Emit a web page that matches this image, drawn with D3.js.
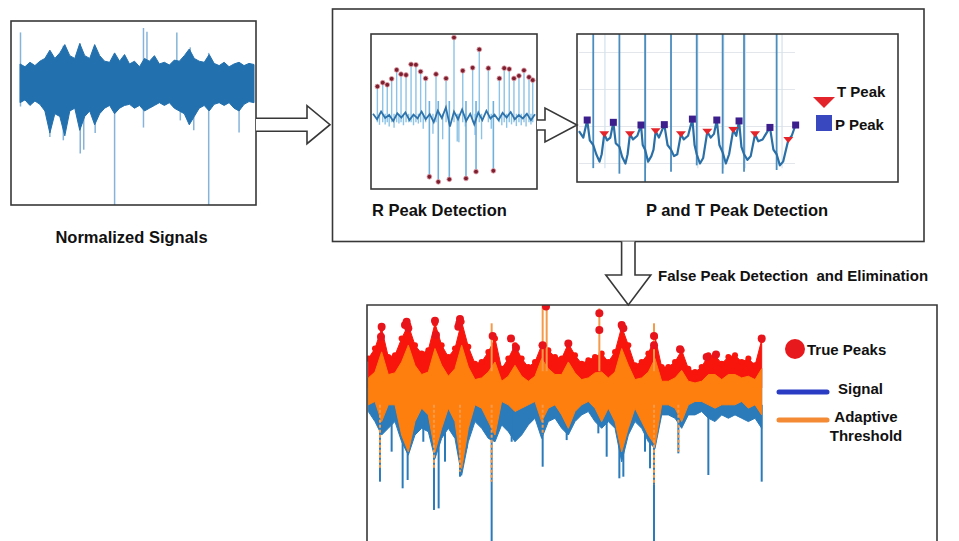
<!DOCTYPE html>
<html>
<head>
<meta charset="utf-8">
<script src="https://cdn.jsdelivr.net/npm/d3@7"></script>
<style>
  html, body { margin: 0; padding: 0; background: #fff; }
  svg { display: block; font-family: "Liberation Sans", Arial, sans-serif; }
  .lbl { font-weight: bold; fill: #111; font-size: 15px; }
  .stage { font-size: 16.5px; }
</style>
</head>
<body>
<svg id="chart" width="959" height="541"></svg>
<script>
// ---------- data ----------

// 1. normalized signal: band envelope per sample + isolated spikes (a.u.)
const normUpper = [0.35,0.30,0.38,0.32,0.40,0.45,0.60,0.45,0.55,0.70,0.50,0.45,0.72,0.50,0.45,0.70,0.50,0.40,0.38,0.55,0.40,0.52,0.35,0.40,0.30,0.45,0.40,0.50,0.35,0.38,0.33,0.42,0.40,0.50,0.62,0.45,0.40,0.38,0.52,0.36,0.32,0.38,0.30,0.35,0.38,0.32,0.36,0.34];
const normLower = [-0.35,-0.30,-0.40,-0.32,-0.38,-0.50,-0.90,-0.55,-0.60,-0.95,-0.50,-0.45,-0.85,-0.60,-0.50,-0.75,-0.55,-0.45,-0.40,-0.55,-0.45,-0.40,-0.38,-0.45,-0.40,-0.50,-0.45,-0.40,-0.35,-0.40,-0.35,-0.45,-0.50,-0.55,-0.75,-0.60,-0.45,-0.40,-0.50,-0.38,-0.35,-0.40,-0.35,-0.45,-0.50,-0.38,-0.33,-0.35];
const normUpT = [0.1, 8.7, 12.1, 24.8, 25.5, 31.5, 34.2, 37.9];
const normUpV = [0.92, 0.68, 0.72, 1.0, 0.93, 0.92, 0.65, 0.55];
const normDownT = [0.1, 6.0, 8.7, 12.1, 12.8, 15.1, 19.0, 24.8, 32.2, 34.9, 37.9, 44.0];
const normDownV = [-0.42, -0.97, -1.03, -1.27, -1.2, -0.9, -2.2, -0.8, -0.67, -0.85, -2.2, -0.89];

// 2a. R peak detection (time s, amplitude mV)
const rBaseT = [0,0.25,0.5,0.75,1,1.25,1.5,1.75,2,2.25,2.5,2.75,3,3.25,3.5,3.75,4,4.25,4.5,4.75,5,5.25,5.5,5.75,6,6.25,6.5,6.75,7,7.25,7.5,7.75,8,8.25,8.5,8.75,9,9.25,9.5,9.75,10];
const rBaseV = [0.05,-0.08,0.1,-0.05,0.02,-0.12,0.06,-0.04,0.08,-0.1,0.03,-0.06,0.1,-0.08,0.04,-0.15,0.12,-0.05,0.2,-0.25,0.1,-0.08,0.15,-0.12,0.05,-0.2,0.08,-0.1,0.12,-0.06,0.03,-0.1,0.07,-0.04,0.09,-0.08,0.02,-0.06,0.05,-0.1,0.04];
const rPeakT = [0.27,0.6,0.88,1.15,1.46,1.73,2.04,2.35,2.65,2.94,3.25,3.89,4.51,5.0,5.54,6.15,6.56,7.12,7.8,8.1,8.41,8.7,9.01,9.32,9.63,9.86];
const rPeakV = [0.69,0.78,0.73,0.87,1.08,0.98,0.96,1.21,1.2,1.04,0.88,0.98,0.88,1.84,1.06,1.13,1.56,1.12,0.88,1.12,1.1,0.88,0.94,1.07,0.91,0.84];
const rNegT = [3.48, 4.03, 4.71, 5.74, 6.36, 7.43];
const rNegV = [-1.43, -1.55, -1.49, -1.47, -1.31, -1.29];
const rDipT = [0.4,0.75,1.0,1.3,1.6,1.88,2.2,2.5,2.8,3.1,3.7,4.3,5.2,5.3,5.7,6.3,6.7,7.3,7.95,8.25,8.55,8.85,9.15,9.45,9.75];
const rDipV = [-0.21,-0.2,-0.25,-0.28,-0.18,-0.22,-0.15,-0.22,-0.18,-0.3,-0.42,-0.55,-0.6,-0.62,-0.25,-0.45,-0.55,-0.3,-0.22,-0.28,-0.2,-0.24,-0.22,-0.25,-0.2];

// 2b. P and T peak detection
const ptTraceT = [0,0.2,0.38,0.5,0.66,0.8,0.95,1.05,1.17,1.3,1.45,1.59,1.7,1.87,2.0,2.15,2.25,2.36,2.5,2.7,2.87,2.95,3.06,3.2,3.35,3.45,3.55,3.7,3.95,4.1,4.26,4.4,4.55,4.72,4.85,5.05,5.25,5.35,5.45,5.6,5.75,5.94,6.1,6.25,6.38,6.5,6.65,6.8,6.95,7.14,7.28,7.41,7.52,7.64,7.8,7.95,8.15,8.3,8.5,8.84,9.0,9.15,9.3,9.45,9.69,9.85,10.0];
const ptTraceV = [-0.05,-0.12,0.07,-0.15,-0.2,-0.3,-0.38,-0.3,-0.08,-0.15,-0.12,0.045,-0.18,-0.22,-0.33,-0.4,-0.3,-0.08,-0.14,-0.1,0.016,-0.2,-0.25,-0.38,-0.32,-0.25,-0.05,-0.12,0.02,-0.2,-0.25,-0.32,-0.3,-0.08,-0.14,-0.1,0.08,-0.2,-0.3,-0.4,-0.34,-0.056,-0.12,-0.08,0.07,-0.2,-0.28,-0.4,-0.3,-0.038,-0.1,0.06,-0.22,-0.3,-0.36,-0.32,-0.084,-0.16,-0.14,-0.01,-0.25,-0.3,-0.42,-0.38,-0.146,-0.1,0.0];
const ptRT = [0.66, 1.87, 3.06, 4.26, 5.45, 6.65, 7.64, 9.15];
const ptRLow = [-0.45, -0.51, -0.6, -0.49, -0.42, -0.51, -0.49, -0.47];
const pPeakT = [0.38, 1.59, 2.87, 3.95, 5.25, 6.38, 7.41, 8.84, 10.03];
const pPeakV = [0.07, 0.045, 0.016, 0.02, 0.08, 0.07, 0.06, -0.01, 0.016];
const tPeakT = [1.17, 2.36, 3.55, 4.72, 5.94, 7.14, 8.15, 9.69];
const tPeakV = [-0.084, -0.084, -0.05, -0.084, -0.056, -0.038, -0.084, -0.146];
const ptGridV = [0.8, 0.4, 0, -0.4];
const ptGridT = [1.2, 3.1, 5.5, 6.7, 7.7, 9.4];

// 3. false peak elimination: envelopes per sample (a.u.)
const redTop = [0.35,0.47,0.71,0.37,0.39,0.59,0.75,0.51,0.41,0.45,0.77,0.51,0.37,0.47,0.79,0.49,0.29,0.31,0.43,0.59,0.23,0.35,0.51,0.35,0.25,0.31,0.51,0.45,0.37,0.35,0.53,0.39,0.29,0.33,0.37,0.41,0.31,0.43,0.73,0.51,0.27,0.31,0.41,0.61,0.25,0.25,0.31,0.45,0.23,0.19,0.25,0.39,0.39,0.29,0.37,0.39,0.31,0.35,0.27,0.57];
const orangeTop = [0.12,0.19,0.43,0.16,0.18,0.31,0.51,0.27,0.16,0.19,0.47,0.27,0.14,0.23,0.51,0.25,0.10,0.12,0.19,0.31,0.08,0.14,0.27,0.14,0.08,0.14,0.35,0.23,0.16,0.16,0.31,0.18,0.10,0.12,0.18,0.19,0.12,0.19,0.47,0.27,0.10,0.12,0.19,0.35,0.08,0.08,0.12,0.21,0.08,0.06,0.08,0.16,0.16,0.10,0.16,0.16,0.12,0.14,0.10,0.23];
const orangeBot = [-0.20,-0.16,-0.40,-0.20,-0.20,-0.56,-0.76,-0.40,-0.24,-0.32,-0.76,-0.48,-0.24,-0.40,-0.96,-0.48,-0.20,-0.24,-0.40,-0.56,-0.16,-0.20,-0.28,-0.24,-0.20,-0.16,-0.40,-0.24,-0.20,-0.32,-0.48,-0.28,-0.20,-0.16,-0.24,-0.40,-0.24,-0.40,-0.76,-0.48,-0.24,-0.40,-0.56,-0.68,-0.20,-0.20,-0.24,-0.40,-0.20,-0.16,-0.16,-0.20,-0.24,-0.20,-0.20,-0.20,-0.16,-0.24,-0.20,-0.32];
const blueBot = [-0.28,-0.40,-0.56,-0.48,-0.40,-0.64,-0.80,-0.56,-0.48,-0.52,-0.84,-0.60,-0.48,-0.60,-1.04,-0.64,-0.40,-0.48,-0.60,-0.64,-0.44,-0.52,-0.64,-0.56,-0.44,-0.36,-0.60,-0.40,-0.36,-0.48,-0.56,-0.40,-0.32,-0.28,-0.40,-0.48,-0.40,-0.48,-0.88,-0.56,-0.40,-0.48,-0.64,-0.72,-0.32,-0.32,-0.36,-0.48,-0.32,-0.32,-0.28,-0.36,-0.40,-0.32,-0.36,-0.32,-0.36,-0.40,-0.36,-0.48];
const blueSpikeT = [1.75,5.15,5.9,9.85,10.55,13.75,18.5,26.15,35.75,37.65,38.25,41.5,42.25,42.85,46.5,51.0,59.0,3.5,8.25,11.5,14.75,21.5,29.75,34.5];
const blueSpikeV = [-1.115,-1.194,-1.095,-1.452,-1.433,-1.056,-2.0,-0.937,-0.818,-1.075,-1.056,-0.758,-0.956,-2.0,-0.778,-1.036,-1.115,-0.758,-0.64,-0.877,-0.718,-0.64,-0.62,-0.54];
const orangeDownT = [1.75, 9.85, 13.75, 18.5, 26.15, 42.85, 46.5];
const orangeDownV = [-0.956, -0.956, -0.996, -1.115, -0.56, -1.155, -0.758];
const orangeUpT = [18.5, 26.15, 26.75, 34.65, 42.85];
const orangeUpV = [0.77, 0.988, 0.988, 0.948, 0.77];
const truePeakT = [2.0,1.9,5.75,5.5,6.0,10.0,10.15,13.75,13.65,13.5,18.65,21.4,22.15,26.15,26.65,30.0,34.65,34.65,38.0,38.25,42.85,42.85,46.75,50.75,52.15,59.0];
const truePeakV = [0.73,0.61,0.79,0.75,0.71,0.80,0.63,0.82,0.77,0.73,0.62,0.59,0.48,0.51,0.97,0.53,0.89,0.69,0.75,0.71,0.62,0.51,0.46,0.37,0.40,0.59];

// labels
const stageLabels = ["Normalized Signals", "R Peak Detection", "P and T Peak Detection", "False Peak Detection  and Elimination"];
const ptLegend = ["T Peak", "P Peak"];
const fpLegend = ["True Peaks", "Signal", "Adaptive", "Threshold"];

// ---------- drawing ----------
const svg = d3.select("#chart");
const ink = "#383838";

function box(x, y, w, h) {
    svg.append("rect")
        .attr("x", x).attr("y", y).attr("width", w).attr("height", h)
        .attr("fill", "none").attr("stroke", ink).attr("stroke-width", 1.6);
}

function clip(id, x, y, w, h) {
    svg.append("clipPath").attr("id", id)
        .append("rect").attr("x", x).attr("y", y).attr("width", w).attr("height", h);
    return svg.append("g").attr("clip-path", `url(#${id})`);
}

// hollow block arrows
function arrowRight(x0, xh, x1, yc, sh, hh) {
    svg.append("path")
        .attr("d", `M${x0},${yc - sh}L${xh},${yc - sh}L${xh},${yc - hh}L${x1},${yc}L${xh},${yc + hh}L${xh},${yc + sh}L${x0},${yc + sh}`)
        .attr("fill", "#fff").attr("stroke", ink).attr("stroke-width", 1.6);
}
function arrowDown(y0, yh, y1, xc, sh, hh) {
    svg.append("path")
        .attr("d", `M${xc - sh},${y0}L${xc - sh},${yh}L${xc - hh},${yh}L${xc},${y1}L${xc + hh},${yh}L${xc + sh},${yh}L${xc + sh},${y0}`)
        .attr("fill", "#fff").attr("stroke", ink).attr("stroke-width", 1.6);
}

// ===== panel 1: normalized signal =====
(function normalized() {
    const x = d3.scaleLinear().domain([0, normUpper.length - 1]).range([20, 254]);
    const y = d3.scaleLinear().domain([-2.2, 1]).range([205, 28]);
    const g = clip("clipNorm", 11, 21, 245, 184);

    g.selectAll(".up").data(normUpT).join("line")
        .attr("x1", d => x(d)).attr("x2", d => x(d))
        .attr("y1", y(0)).attr("y2", (d, i) => y(normUpV[i]))
        .attr("stroke", "#86b4d8").attr("stroke-width", 1.5);
    g.selectAll(".down").data(normDownT).join("line")
        .attr("x1", d => x(d)).attr("x2", d => x(d))
        .attr("y1", y(0)).attr("y2", (d, i) => y(normDownV[i]))
        .attr("stroke", "#86b4d8").attr("stroke-width", 1.5);

    const band = d3.area()
        .x((d, i) => x(i))
        .y0((d, i) => y(normLower[i]))
        .y1(d => y(d));
    g.append("path").datum(normUpper)
        .attr("d", band)
        .attr("fill", "#2270ae")
        .attr("stroke", "#2270ae").attr("stroke-width", 1);

    box(11, 21, 245, 184);
    svg.append("text").attr("class", "lbl stage")
        .attr("x", 131.5).attr("y", 237).attr("dy", "0.35em")
        .attr("text-anchor", "middle").text(stageLabels[0]);
})();

arrowRight(256, 307, 330, 124.7, 6.5, 19);

// ===== panel 2 frame =====
box(332.5, 9, 591.5, 232.5);

// ===== panel 2a: R peaks =====
(function rPeaks() {
    const x = d3.scaleLinear().domain([0, 10]).range([373, 535]);
    const y = d3.scaleLinear().domain([-1.6, 1.9]).range([184, 35]);
    const g = clip("clipR", 371, 34, 166, 155);
    const light = "#8cc3e6";

    g.selectAll(".dip").data(rDipT).join("line")
        .attr("x1", d => x(d)).attr("x2", d => x(d))
        .attr("y1", y(0.05)).attr("y2", (d, i) => y(rDipV[i]))
        .attr("stroke", light).attr("stroke-width", 1.4);
    g.selectAll(".pk").data(rPeakT).join("line")
        .attr("x1", d => x(d)).attr("x2", d => x(d))
        .attr("y1", y(-0.15)).attr("y2", (d, i) => y(rPeakV[i]))
        .attr("stroke", light).attr("stroke-width", 1.4);
    g.selectAll(".neg").data(rNegT).join("line")
        .attr("x1", d => x(d)).attr("x2", d => x(d))
        .attr("y1", y(0.35)).attr("y2", (d, i) => y(rNegV[i]))
        .attr("stroke", "#6fb0dc").attr("stroke-width", 1.6);

    const line = d3.line().x(d => x(d)).y((d, i) => y(rBaseV[i]));
    g.append("path").datum(rBaseT)
        .attr("d", line).attr("fill", "none")
        .attr("stroke", "#2f73ab").attr("stroke-width", 1.8);

    g.selectAll(".dotp").data(rPeakT).join("circle")
        .attr("cx", d => x(d)).attr("cy", (d, i) => y(rPeakV[i])).attr("r", 2.4)
        .attr("fill", "#7d1f2e").attr("stroke", "#e3a3ad").attr("stroke-width", 0.8);
    g.selectAll(".dotn").data(rNegT).join("circle")
        .attr("cx", d => x(d)).attr("cy", (d, i) => y(rNegV[i])).attr("r", 2.4)
        .attr("fill", "#7d1f2e").attr("stroke", "#e3a3ad").attr("stroke-width", 0.8);

    box(371, 34, 166, 155);
    svg.append("text").attr("class", "lbl stage")
        .attr("x", 372).attr("y", 210).attr("dy", "0.35em")
        .text(stageLabels[1]);
})();

arrowRight(537, 545, 577, 125, 5, 17);

// ===== panel 2b: P and T peaks =====
(function ptPeaks() {
    const x = d3.scaleLinear().domain([0, 10]).range([579, 795]);
    const y = d3.scaleLinear().domain([-0.6, 1.0]).range([182, 34]);
    const g = clip("clipPT", 577, 34, 321, 148);

    g.selectAll(".gh").data(ptGridV).join("line")
        .attr("x1", x(0)).attr("x2", x(10))
        .attr("y1", d => y(d)).attr("y2", d => y(d))
        .attr("stroke", "#e3e6ea").attr("stroke-width", 1);
    g.selectAll(".gv").data(ptGridT).join("line")
        .attr("x1", d => x(d)).attr("x2", d => x(d))
        .attr("y1", y(1.0)).attr("y2", y(-0.45))
        .attr("stroke", "#d3e2ee").attr("stroke-width", 1.2);

    g.selectAll(".rs").data(ptRT).join("line")
        .attr("x1", d => x(d)).attr("x2", d => x(d))
        .attr("y1", y(1.1)).attr("y2", (d, i) => y(ptRLow[i]))
        .attr("stroke", "#4b8dbf").attr("stroke-width", 1.8);

    const line = d3.line().x(d => x(d)).y((d, i) => y(ptTraceV[i]));
    g.append("path").datum(ptTraceT)
        .attr("d", line).attr("fill", "none")
        .attr("stroke", "#2a6fa6").attr("stroke-width", 2.2)
        .attr("stroke-linejoin", "round");

    g.selectAll(".tp").data(tPeakT).join("path")
        .attr("transform", (d, i) => `translate(${x(d)},${y(tPeakV[i])})`)
        .attr("d", "M-5,-3L5,-3L0,3Z")
        .attr("fill", "#e3242b");
    g.selectAll(".pp").data(pPeakT).join("rect")
        .attr("x", d => x(d) - 3.5).attr("y", (d, i) => y(pPeakV[i]) - 3.5)
        .attr("width", 7).attr("height", 7)
        .attr("fill", "#3c1f8c");

    box(577, 34, 321, 148);

    // legend
    svg.append("path").attr("d", "M813,97L835,97L824,108Z").attr("fill", "#e3242b");
    svg.append("rect").attr("x", 816).attr("y", 115).attr("width", 16).attr("height", 16).attr("fill", "#3a48c0");
    svg.append("text").attr("class", "lbl").attr("x", 837).attr("y", 92).attr("dy", "0.35em").text(ptLegend[0]);
    svg.append("text").attr("class", "lbl").attr("x", 835).attr("y", 125).attr("dy", "0.35em").text(ptLegend[1]);

    svg.append("text").attr("class", "lbl stage")
        .attr("x", 737).attr("y", 210).attr("dy", "0.35em")
        .attr("text-anchor", "middle").text(stageLabels[2]);
})();

arrowDown(241.5, 275, 305, 628.3, 6.7, 22.5);
svg.append("text").attr("class", "lbl")
    .attr("x", 658).attr("y", 276).attr("dy", "0.35em")
    .style("white-space", "pre")
    .text(stageLabels[3]);

// ===== panel 3: false peak elimination =====
(function falsePeaks() {
    const x = d3.scaleLinear().domain([0, redTop.length - 1]).range([368.3, 761.7]);
    const y = d3.scaleLinear().domain([-2, 1]).range([556, 304]);
    const g = clip("clipFP", 367, 305, 570, 250);
    const blue = "#2b7bba", orange = "#ff7f0e", red = "#f8150c";

    g.append("path").datum(blueBot)
        .attr("d", d3.area().x((d, i) => x(i)).y0(d => y(d)).y1((d, i) => y(orangeTop[i])))
        .attr("fill", blue).attr("stroke", blue).attr("stroke-width", 1);
    g.selectAll(".bs").data(blueSpikeT).join("line")
        .attr("x1", d => x(d)).attr("x2", d => x(d))
        .attr("y1", y(-0.2)).attr("y2", (d, i) => y(blueSpikeV[i]))
        .attr("stroke", blue).attr("stroke-width", 2);

    g.append("path").datum(redTop)
        .attr("d", d3.area().x((d, i) => x(i)).y0(y(0)).y1(d => y(d)))
        .attr("fill", red).attr("stroke", red).attr("stroke-width", 1);
    g.selectAll(".rd").data(redTop).join("circle")
        .attr("cx", (d, i) => x(i)).attr("cy", d => y(d)).attr("r", 3)
        .attr("fill", red);

    g.append("path").datum(orangeTop)
        .attr("d", d3.area().x((d, i) => x(i)).y0((d, i) => y(orangeBot[i])).y1(d => y(d)))
        .attr("fill", orange).attr("stroke", orange).attr("stroke-width", 1);
    g.selectAll(".od").data(orangeDownT).join("line")
        .attr("x1", d => x(d)).attr("x2", d => x(d))
        .attr("y1", y(-0.2)).attr("y2", (d, i) => y(orangeDownV[i]))
        .attr("stroke", "#f59a4a").attr("stroke-width", 2).attr("stroke-dasharray", "3,2");
    g.selectAll(".ou").data(orangeUpT).join("line")
        .attr("x1", d => x(d)).attr("x2", d => x(d))
        .attr("y1", y(0.2)).attr("y2", (d, i) => y(orangeUpV[i]))
        .attr("stroke", "#f59a4a").attr("stroke-width", 2);

    g.selectAll(".tp").data(truePeakT).join("circle")
        .attr("cx", d => x(d)).attr("cy", (d, i) => y(truePeakV[i])).attr("r", 4)
        .attr("fill", "#e8141c");

    svg.append("path")
        .attr("d", "M367,560L367,305L937,305L937,560")
        .attr("fill", "none").attr("stroke", ink).attr("stroke-width", 1.6);

    // legend
    svg.append("circle").attr("cx", 795).attr("cy", 349).attr("r", 10).attr("fill", "#e8191c");
    svg.append("line").attr("x1", 779).attr("x2", 827).attr("y1", 392).attr("y2", 392)
        .attr("stroke", "#2b3cc4").attr("stroke-width", 5).attr("stroke-linecap", "round");
    svg.append("line").attr("x1", 779).attr("x2", 827).attr("y1", 420).attr("y2", 420)
        .attr("stroke", "#f58a35").attr("stroke-width", 5).attr("stroke-linecap", "round");
    svg.append("text").attr("class", "lbl").attr("x", 807).attr("y", 350).attr("dy", "0.35em").text(fpLegend[0]);
    svg.append("text").attr("class", "lbl").attr("x", 838).attr("y", 389).attr("dy", "0.35em").text(fpLegend[1]);
    svg.append("text").attr("class", "lbl").attr("x", 866).attr("y", 417).attr("dy", "0.35em").attr("text-anchor", "middle").text(fpLegend[2]);
    svg.append("text").attr("class", "lbl").attr("x", 866).attr("y", 436).attr("dy", "0.35em").attr("text-anchor", "middle").text(fpLegend[3]);
})();
</script>
</body>
</html>
